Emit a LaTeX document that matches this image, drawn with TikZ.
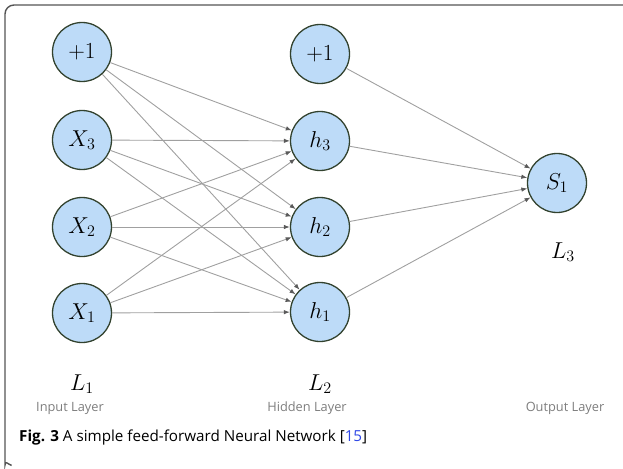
\RequirePackage{fix-cm}
\documentclass[tikz,border=0pt]{standalone}
\usepackage{fontspec}
\setsansfont{Open Sans}
\usetikzlibrary{arrows.meta}
\definecolor{nfill}{RGB}{189,219,248}
\definecolor{nborder}{RGB}{50,66,46}
\definecolor{edgec}{RGB}{160,160,160}
\definecolor{tipc}{RGB}{90,90,90}
\definecolor{labc}{RGB}{125,125,125}
\definecolor{refc}{RGB}{45,70,230}
\definecolor{framec}{RGB}{85,85,85}
\begin{document}
\begin{tikzpicture}[x=1pt,y=-1pt,
  neuron/.style={circle,draw=nborder,fill=nfill,line width=1.3pt,minimum size=59pt,inner sep=0pt,font=\fontsize{23}{23}\selectfont},
  conn/.style={draw=edgec,line width=0.9pt,-{Latex[length=6pt,width=4.5pt,color=tipc]}},
  laytitle/.style={anchor=base,font=\fontsize{23}{23}\selectfont},
  layname/.style={anchor=base,text=labc,font=\sffamily\fontsize{12.8}{12.8}\selectfont},
  frame/.style={draw=framec,line width=1.4pt,rounded corners=9pt}]
\useasboundingbox (0,0) rectangle (623,468);
\clip (0,0) rectangle (623,468);
\draw[frame] (640,5) -- (5,5) -- (5,456) arc[start angle=180,end angle=250,radius=10pt];
% input layer
\node[neuron] (b1) at (82,52) {$+1$};
\node[neuron] (x3) at (82,140) {$X_3$};
\node[neuron] (x2) at (82,227) {$X_2$};
\node[neuron] (x1) at (82,313) {$X_1$};
% hidden layer
\node[neuron] (b2) at (320,54) {$+1$};
\node[neuron] (h3) at (320,141) {$h_3$};
\node[neuron] (h2) at (320,227) {$h_2$};
\node[neuron] (h1) at (320,312) {$h_1$};
% output
\node[neuron] (s1) at (557,183) {$S_1$};
% connections
\foreach \i in {b1,x3,x2,x1}
  \foreach \j in {h3,h2,h1}
    \draw[conn] (\i) -- (\j);
\foreach \i in {b2,h3,h2,h1}
  \draw[conn] (\i) -- (s1);
% labels
\node[laytitle] (l1) at (82,390) {$L_1$};
\node[laytitle] (l2) at (320,390) {$L_2$};
\node[laytitle] (l3) at (563,258) {$L_3$};
\node[layname] (n1) at (70,411) {Input Layer};
\node[layname] (n2) at (307,411) {Hidden Layer};
\node[layname] (n3) at (565,411) {Output Layer};
\node[anchor=base west,inner sep=0pt,font=\sffamily\fontsize{15.2}{15.2}\selectfont] (cap) at (19,441) {\textbf{Fig. 3} A simple feed-forward Neural Network [\textcolor{refc}{15}]};
\end{tikzpicture}
\end{document}
